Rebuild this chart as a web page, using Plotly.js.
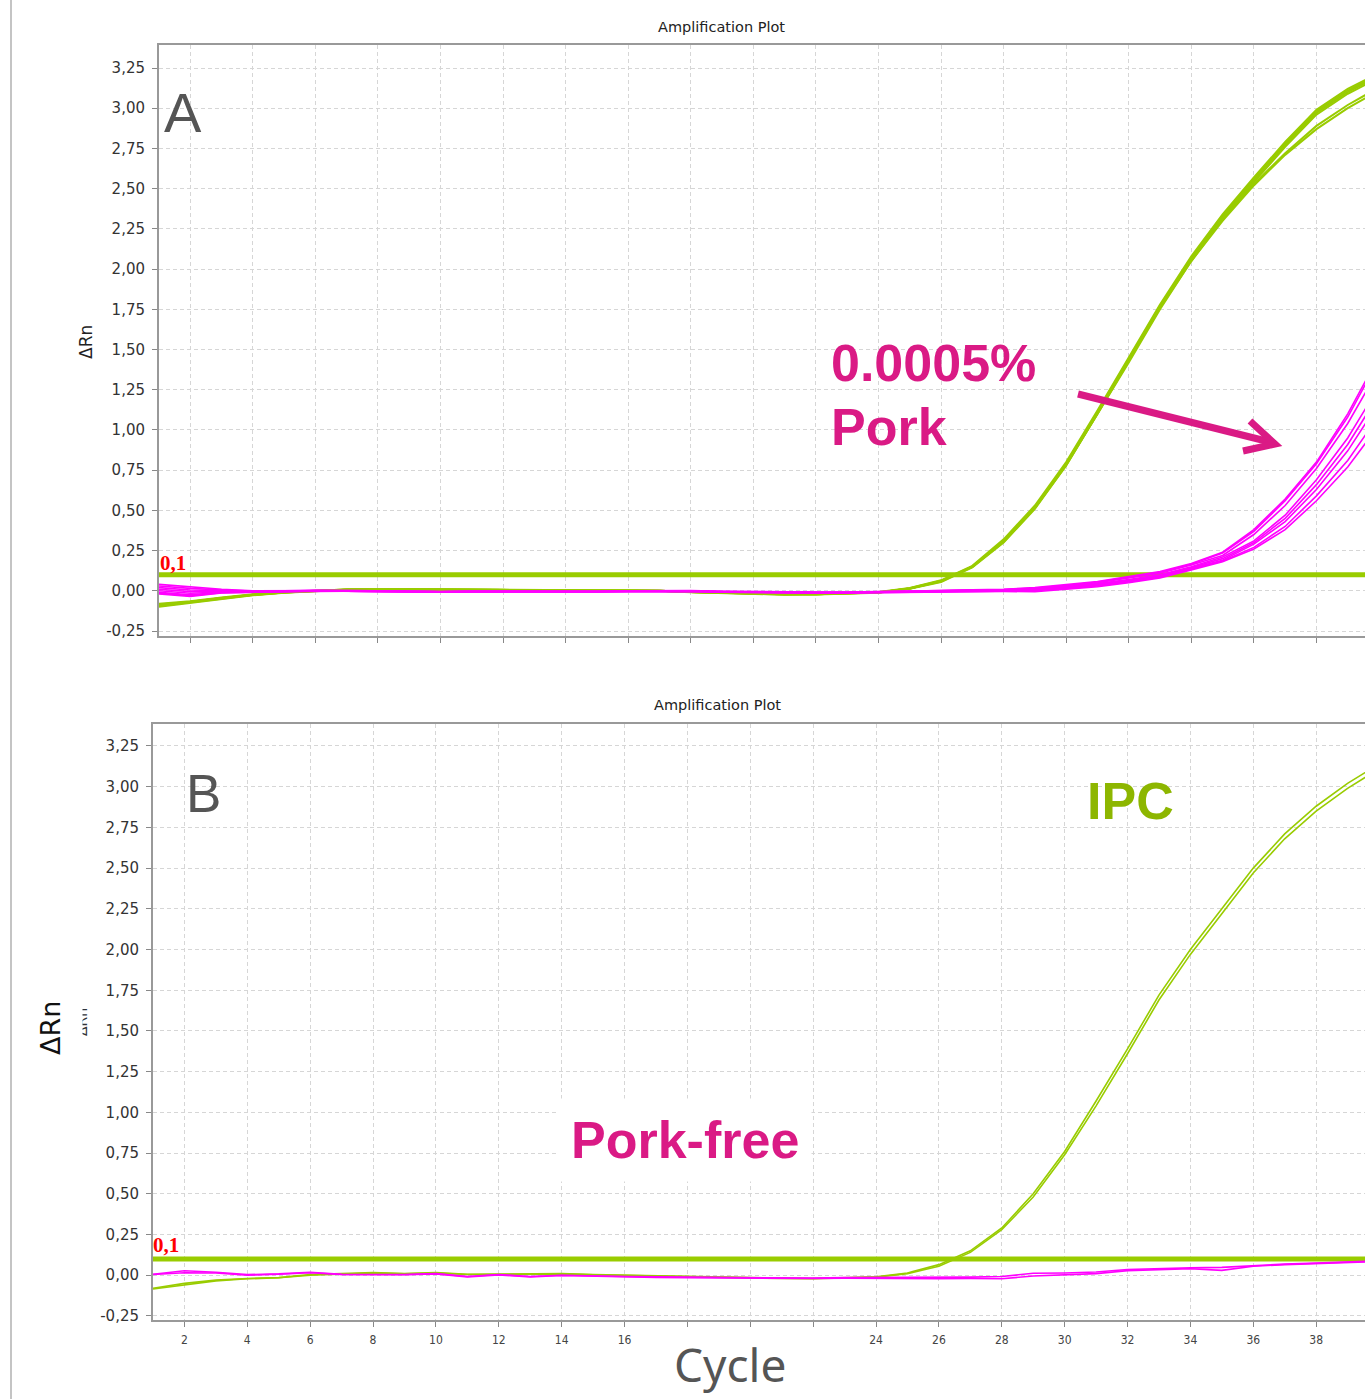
<!DOCTYPE html>
<html><head><meta charset="utf-8">
<script src="https://cdn.plot.ly/plotly-3.0.1.min.js"></script>
<style>html,body{margin:0;padding:0;overflow:hidden;background:#fff}#chart{width:1400px;height:1399px}</style>
</head><body><div id="chart"></div><script>
// ---------------- data ----------------
const cycles = [1,2,3,4,5,6,7,8,9,10,11,12,13,14,15,16,17,18,19,20,21,22,23,24,25,26,27,28,29,30,31,32,33,34,35,36,37,38,39,40];
const threshold = 0.1;
const thresholdLabel = "0,1";

// Panel A: IPC (green) curves
const ipcA1 = [-0.09,-0.07,-0.045,-0.025,-0.01,0.0,0.008,0.01,0.008,0.008,0.006,0.005,0.005,0.004,0.0,0.002,0.0,-0.008,-0.012,-0.018,-0.022,-0.022,-0.016,-0.01,0.015,0.06,0.15,0.31,0.52,0.79,1.11,1.44,1.77,2.07,2.33,2.56,2.78,2.98,3.11,3.21];
const ipcA2 = [-0.1,-0.075,-0.05,-0.028,-0.012,-0.002,0.006,0.009,0.009,0.007,0.006,0.006,0.004,0.003,0.001,0.001,-0.002,-0.009,-0.014,-0.02,-0.024,-0.023,-0.018,-0.012,0.012,0.055,0.145,0.3,0.51,0.78,1.1,1.43,1.76,2.06,2.32,2.55,2.77,2.97,3.1,3.2];
const ipcA3 = [-0.08,-0.065,-0.042,-0.022,-0.008,0.001,0.008,0.011,0.01,0.009,0.007,0.005,0.006,0.005,0.001,0.003,0.001,-0.007,-0.011,-0.017,-0.021,-0.02,-0.015,-0.008,0.018,0.065,0.155,0.32,0.53,0.8,1.12,1.45,1.78,2.08,2.34,2.57,2.79,2.99,3.12,3.22];
const ipcA4 = [-0.095,-0.072,-0.048,-0.026,-0.011,-0.001,0.007,0.01,0.008,0.008,0.005,0.004,0.004,0.004,0.0,0.002,0.0,-0.008,-0.013,-0.019,-0.023,-0.022,-0.017,-0.011,0.014,0.058,0.148,0.305,0.515,0.785,1.1,1.42,1.75,2.05,2.31,2.54,2.76,2.96,3.09,3.19];
const ipcA5 = [-0.085,-0.068,-0.044,-0.024,-0.009,0.0,0.007,0.009,0.009,0.008,0.006,0.005,0.005,0.004,0.0,0.002,0.0,-0.008,-0.012,-0.018,-0.022,-0.021,-0.016,-0.01,0.015,0.06,0.15,0.305,0.515,0.78,1.1,1.43,1.76,2.05,2.3,2.52,2.71,2.87,3.0,3.11];
const ipcA6 = [-0.09,-0.07,-0.046,-0.025,-0.01,0.0,0.008,0.01,0.008,0.008,0.006,0.005,0.005,0.004,0.0,0.002,0.0,-0.008,-0.012,-0.018,-0.022,-0.022,-0.016,-0.01,0.016,0.062,0.152,0.31,0.52,0.79,1.11,1.44,1.77,2.06,2.31,2.53,2.72,2.89,3.02,3.13];

// Panel A: pork 0.0005% (magenta) curves
const porkA1 = [0.04,0.025,0.01,0.0,0.002,0.004,0.002,0.0,-0.003,-0.004,-0.002,-0.003,-0.002,-0.001,-0.003,0.0,0.002,0.001,-0.003,-0.006,-0.008,-0.008,-0.008,-0.006,-0.003,0.002,0.006,0.01,0.02,0.037,0.058,0.088,0.12,0.17,0.24,0.38,0.57,0.8,1.1,1.46];
const porkA2 = [0.03,0.015,0.005,-0.002,0.0,0.003,0.001,-0.001,-0.004,-0.005,-0.003,-0.004,-0.003,-0.002,-0.004,-0.001,0.001,0.0,-0.004,-0.007,-0.009,-0.009,-0.009,-0.007,-0.004,0.001,0.005,0.008,0.017,0.033,0.055,0.085,0.115,0.165,0.235,0.37,0.56,0.79,1.08,1.44];
const porkA3 = [0.02,0.005,0.0,-0.004,-0.002,0.002,0.0,-0.002,-0.005,-0.006,-0.004,-0.005,-0.004,-0.003,-0.005,-0.002,0.0,-0.001,-0.005,-0.008,-0.01,-0.01,-0.01,-0.008,-0.005,0.0,0.004,0.006,0.014,0.03,0.05,0.08,0.11,0.16,0.22,0.35,0.53,0.76,1.04,1.38];
const porkA4 = [0.01,-0.005,-0.005,-0.005,-0.003,0.001,-0.001,-0.003,-0.006,-0.006,-0.005,-0.005,-0.005,-0.004,-0.005,-0.003,-0.001,-0.002,-0.006,-0.009,-0.011,-0.011,-0.011,-0.009,-0.006,-0.002,0.002,0.004,0.01,0.026,0.045,0.07,0.1,0.15,0.21,0.31,0.47,0.69,0.95,1.27];
const porkA5 = [0.0,-0.015,-0.008,-0.006,-0.004,0.0,-0.002,-0.004,-0.006,-0.007,-0.005,-0.006,-0.005,-0.004,-0.006,-0.003,-0.002,-0.003,-0.007,-0.01,-0.012,-0.012,-0.012,-0.01,-0.007,-0.003,0.0,0.002,0.007,0.022,0.04,0.065,0.095,0.145,0.2,0.3,0.45,0.66,0.91,1.22];
const porkA6 = [-0.01,-0.025,-0.01,-0.006,-0.004,0.0,-0.002,-0.004,-0.007,-0.007,-0.006,-0.006,-0.006,-0.005,-0.006,-0.004,-0.002,-0.003,-0.007,-0.01,-0.012,-0.013,-0.012,-0.01,-0.008,-0.004,-0.001,0.0,0.004,0.018,0.035,0.06,0.09,0.14,0.19,0.29,0.43,0.63,0.87,1.17];
const porkA7 = [-0.015,-0.03,-0.012,-0.007,-0.005,-0.001,-0.003,-0.005,-0.007,-0.008,-0.006,-0.007,-0.006,-0.005,-0.007,-0.004,-0.003,-0.004,-0.008,-0.011,-0.013,-0.013,-0.013,-0.011,-0.009,-0.005,-0.002,-0.002,0.0,0.014,0.03,0.055,0.085,0.135,0.185,0.27,0.4,0.59,0.81,1.09];
const porkA8 = [-0.02,-0.035,-0.014,-0.008,-0.005,-0.001,-0.003,-0.005,-0.008,-0.008,-0.007,-0.007,-0.007,-0.006,-0.007,-0.005,-0.003,-0.004,-0.008,-0.011,-0.014,-0.014,-0.014,-0.012,-0.01,-0.006,-0.003,-0.004,-0.006,0.008,0.025,0.05,0.08,0.13,0.18,0.26,0.38,0.56,0.77,1.03];

// Panel B: IPC (green) curves
const ipcB1 = [-0.08,-0.05,-0.03,-0.02,-0.015,0.004,0.01,0.016,0.01,0.016,0.006,0.006,0.006,0.01,0.004,0.0,-0.004,-0.01,-0.012,-0.014,-0.018,-0.02,-0.016,-0.01,0.014,0.065,0.15,0.29,0.5,0.76,1.07,1.39,1.72,2.0,2.25,2.5,2.71,2.88,3.02,3.14];
const ipcB2 = [-0.085,-0.06,-0.035,-0.022,-0.016,0.0,0.008,0.014,0.009,0.014,0.004,0.005,0.004,0.008,0.002,-0.002,-0.006,-0.012,-0.014,-0.016,-0.02,-0.022,-0.018,-0.012,0.01,0.055,0.14,0.28,0.48,0.74,1.04,1.36,1.69,1.97,2.22,2.47,2.68,2.85,2.99,3.11];

// Panel B: pork-free (magenta) curves
const porkB1 = [0.006,0.027,0.018,0.004,0.008,0.018,0.005,0.004,0.004,0.01,-0.008,0.004,-0.008,0.0,-0.005,-0.008,-0.01,-0.012,-0.015,-0.018,-0.018,-0.018,-0.015,-0.015,-0.012,-0.015,-0.012,-0.008,0.012,0.014,0.02,0.035,0.042,0.045,0.048,0.06,0.068,0.074,0.08,0.088];
const porkB2 = [0.004,0.015,0.014,0.0,0.006,0.015,0.004,0.003,0.003,0.008,-0.01,0.002,-0.01,-0.002,-0.007,-0.01,-0.013,-0.015,-0.017,-0.02,-0.02,-0.02,-0.018,-0.02,-0.02,-0.022,-0.02,-0.022,-0.005,0.004,0.01,0.028,0.035,0.04,0.03,0.055,0.065,0.072,0.078,0.085];

// ticks
const xTickVals = [2,4,6,8,10,12,14,16,18,20,22,24,26,28,30,32,34,36,38];
const xTickTextA = ["2","4","6","8","10","12","14","","","","","","26","28","30","32","34","36","38"];
const xTickTextB = ["2","4","6","8","10","12","14","16","","","","24","26","28","30","32","34","36","38"];
const yTickVals = [-0.25,0,0.25,0.5,0.75,1,1.25,1.5,1.75,2,2.25,2.5,2.75,3,3.25];
const yTickText = ["-0,25","0,00","0,25","0,50","0,75","1,00","1,25","1,50","1,75","2,00","2,25","2,50","2,75","3,00","3,25"];

// ---------------- styling ----------------
const W = 1400, H = 1399;
const px = v => v / W;
const py = v => 1 - v / H;
const GREEN = '#99CC00';
const MAGENTA = '#FF00FF';
const PINK = '#DA1A85';
const IPCGREEN = '#8DB600';

const traces = [];
function add(y, color, width, xa, ya) {
  traces.push({x: cycles, y: y, type: 'scatter', mode: 'lines', xaxis: xa, yaxis: ya,
    line: {color: color, width: width}, hoverinfo: 'skip', showlegend: false});
}
[ipcA1, ipcA2, ipcA3, ipcA4, ipcA5, ipcA6].forEach(s => add(s, GREEN, 2, 'x', 'y'));
traces.push({x: [cycles[0], cycles[cycles.length-1]], y: [threshold, threshold], type: 'scatter', mode: 'lines',
  xaxis: 'x', yaxis: 'y', line: {color: GREEN, width: 5}, hoverinfo: 'skip', showlegend: false});
[porkA1, porkA2, porkA3, porkA4, porkA5, porkA6, porkA7, porkA8].forEach(s => add(s, MAGENTA, 1.6, 'x', 'y'));

[ipcB1, ipcB2].forEach(s => add(s, GREEN, 1.6, 'x2', 'y2'));
traces.push({x: [cycles[0], cycles[cycles.length-1]], y: [threshold, threshold], type: 'scatter', mode: 'lines',
  xaxis: 'x2', yaxis: 'y2', line: {color: GREEN, width: 5}, hoverinfo: 'skip', showlegend: false});
[porkB1, porkB2].forEach(s => add(s, MAGENTA, 1.6, 'x2', 'y2'));

function xAxis(domain, tickText, anchor) {
  return {domain: domain, range: [1, 40], anchor: anchor, tickvals: xTickVals, ticktext: tickText,
    showgrid: true, gridcolor: '#d6d6d6', gridwidth: 1, griddash: '4px,3px', zeroline: false,
    showline: true, linecolor: '#999', linewidth: 2, mirror: true,
    ticks: 'outside', ticklen: 5, tickcolor: '#888', tickwidth: 1, ticklabelstandoff: 3,
    tickfont: {family: '"Liberation Sans Narrow", "DejaVu Sans Condensed", Arial, sans-serif', size: 12, color: '#444'}};
}
function yAxis(domain, range, anchor) {
  return {domain: domain, range: range, anchor: anchor, tickvals: yTickVals, ticktext: yTickText,
    showgrid: true, gridcolor: '#d6d6d6', gridwidth: 1, griddash: '4px,3px', zeroline: false,
    showline: true, linecolor: '#999', linewidth: 2, mirror: true,
    ticks: 'outside', ticklen: 5, tickcolor: '#888', tickwidth: 1, ticklabelstandoff: 4,
    tickfont: {family: '"DejaVu Sans", sans-serif', size: 15, color: '#333'}};
}

const ann = (text, x, y, font, extra) => Object.assign({text: text, x: px(x), y: py(y), xref: 'paper', yref: 'paper',
  showarrow: false, xanchor: 'center', yanchor: 'middle', font: font}, extra || {});
const annotations = [
  ann('Amplification Plot', 721, 27, {family: '"DejaVu Sans", sans-serif', size: 14.5, color: '#222'}),
  ann('Amplification Plot', 717, 705, {family: '"DejaVu Sans", sans-serif', size: 14.5, color: '#222'}),
  ann('A', 183, 113, {family: '"Liberation Sans", Arial, sans-serif', size: 56, color: '#555'}),
  ann('B', 203, 793, {family: '"Liberation Sans", Arial, sans-serif', size: 53, color: '#555'}),
  ann('ΔRn', 86, 342, {family: '"DejaVu Sans", sans-serif', size: 17, color: '#222'}, {textangle: -90}),
  ann('ΔRn', 82, 1022, {family: '"DejaVu Sans", sans-serif', size: 14, color: '#333'}, {textangle: -90}),
  ann('ΔRn', 50, 1028, {family: '"DejaVu Sans", sans-serif', size: 27, color: '#111'}, {textangle: -90, bgcolor: '#fff', borderpad: 16}),
  ann(thresholdLabel, 159, 576, {family: '"Liberation Serif", "Times New Roman", serif', size: 21, color: '#FF0000', weight: 'bold'}, {xanchor: 'left', yanchor: 'bottom', borderpad: 0}),
  ann(thresholdLabel, 152, 1258, {family: '"Liberation Serif", "Times New Roman", serif', size: 21, color: '#FF0000', weight: 'bold'}, {xanchor: 'left', yanchor: 'bottom', borderpad: 0}),
  ann('<b>0.0005%</b>', 829, 363, {family: '"Liberation Sans", Arial, sans-serif', size: 52, color: PINK}, {xanchor: 'left'}),
  ann('<b>Pork</b>', 829, 427, {family: '"Liberation Sans", Arial, sans-serif', size: 52, color: PINK}, {xanchor: 'left'}),
  ann('<b>IPC</b>', 1130, 801, {family: '"Liberation Sans", Arial, sans-serif', size: 52, color: IPCGREEN}),
  ann('<b>Pork-free</b>', 685, 1140, {family: '"Liberation Sans", Arial, sans-serif', size: 52, color: PINK}, {bgcolor: '#fff', borderpad: 12}),
  ann('Cycle', 730, 1364, {family: '"Noto Sans", "Open Sans", sans-serif', size: 46, color: '#555'})
];

const shapes = [
  {type: 'line', xref: 'paper', yref: 'paper', x0: px(11), x1: px(11), y0: 0, y1: 1, line: {color: '#c4c4c4', width: 2}},
  {type: 'rect', xref: 'paper', yref: 'paper', x0: px(140), x1: 1, y0: py(690), y1: py(649), fillcolor: '#fff', line: {width: 0}, layer: 'above'},
  {type: 'path', xref: 'paper', yref: 'paper', layer: 'above',
    path: `M ${px(1078)},${py(394)} L ${px(1270)},${py(442)}`, line: {color: PINK, width: 7}},
  {type: 'path', xref: 'paper', yref: 'paper', layer: 'above',
    path: `M ${px(1250)},${py(421)} L ${px(1275)},${py(444)} L ${px(1243)},${py(451)}`, line: {color: PINK, width: 7}}
];

const layout = {
  width: W, height: H, margin: {l: 0, r: 0, t: 0, b: 0},
  paper_bgcolor: '#fff', plot_bgcolor: '#fff', showlegend: false,
  xaxis: xAxis([px(159), px(1379)], xTickTextA, 'y'),
  yaxis: yAxis([py(636), py(45)], [-0.281, 3.393], 'x'),
  xaxis2: xAxis([px(153), px(1379)], xTickTextB, 'y2'),
  yaxis2: yAxis([py(1320), py(724)], [-0.275, 3.385], 'x2'),
  annotations: annotations, shapes: shapes, hovermode: false
};
Plotly.newPlot('chart', traces, layout, {staticPlot: true, displayModeBar: false});
</script></body></html>
